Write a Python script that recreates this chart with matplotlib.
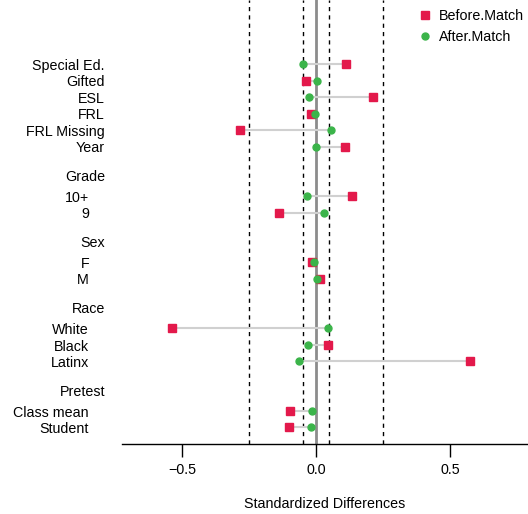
import numpy as np
import matplotlib.pyplot as plt
import matplotlib.transforms as mtransforms

plt.rcParams['font.family'] = ['Liberation Sans', 'DejaVu Sans']

# Covariates without a group header
top_vars = ['Special Ed.', 'Gifted', 'ESL', 'FRL', 'FRL Missing', 'Year']
top_before = [0.113, -0.036, 0.214, -0.017, -0.282, 0.109]
top_after = [-0.049, 0.002, -0.025, -0.002, 0.055, 0.000]

# Grouped covariates
groups = ['Grade', 'Sex', 'Race', 'Pretest']
group_items = [['10+', '9'], ['F', 'M'], ['White', 'Black', 'Latinx'],
               ['Class mean', 'Student']]
group_before = [[0.136, -0.137], [-0.014, 0.014], [-0.537, 0.045, 0.575],
                [-0.097, -0.100]]
group_after = [[-0.034, 0.031], [-0.007, 0.005], [0.045, -0.030, -0.063],
               [-0.015, -0.019]]

red = '#E3194B'
green = '#3BB44A'
fs = 10.3

fig = plt.figure(figsize=(5.28, 5.14), dpi=100)
ax = fig.add_axes([122 / 528, 70 / 514, 406 / 528, 444 / 514])

# Build row positions
rows = []  # (y, label, before, after, is_item)
headers = []
y = 0
for lab, b, a in zip(top_vars, top_before, top_after):
    rows.append((y, lab, b, a, False))
    y += 1
for g, items, bs, as_ in zip(groups, group_items, group_before, group_after):
    y += 0.75
    headers.append((y, g))
    y += 1.25
    for lab, b, a in zip(items, bs, as_):
        rows.append((y, lab, b, a, True))
        y += 1

# Reference lines
for v in [-0.25, -0.05, 0.05, 0.25]:
    ax.axvline(v, color='black', linestyle=(0, (3, 3)), linewidth=1, zorder=1)
ax.axvline(0, color='#8C8C8C', linewidth=2, zorder=1)

ys = np.array([r[0] for r in rows])
bef = np.array([r[2] for r in rows])
aft = np.array([r[3] for r in rows])
ax.hlines(ys, bef, aft, color='#D0D0D0', linewidth=1.5, zorder=2)
ax.plot(bef, ys, 's', color=red, markersize=5.5, linestyle='none', zorder=3,
        label='Before.Match')
ax.plot(aft, ys, 'o', color=green, markersize=5, linestyle='none', zorder=4,
        label='After.Match')

# Labels on the left
trans = mtransforms.blended_transform_factory(fig.transFigure, ax.transData)
for yy, lab, b, a, is_item in rows:
    xpos = 89 / 528 if is_item else 105 / 528
    ax.text(xpos, yy + 0.1, lab, transform=trans, ha='right', va='center',
            fontsize=fs, clip_on=False)
for yy, g in headers:
    ax.text(105 / 528, yy + 0.1, g, transform=trans, ha='right', va='center',
            fontsize=fs, clip_on=False)

ax.set_xlim(-0.724, 0.791)
ax.set_ylim(23.0, -3.88)
ax.set_yticks([])
ax.set_xticks([-0.5, 0.0, 0.5])
ax.tick_params(axis='x', length=9, width=1, labelsize=fs, pad=5)
for s in ['top', 'right', 'left']:
    ax.spines[s].set_visible(False)
ax.spines['bottom'].set_linewidth(1)
ax.set_xlabel('Standardized Differences', fontsize=fs, labelpad=14)

ax.legend(loc='upper left', bbox_to_anchor=(409 / 528, 1.0),
          bbox_transform=fig.transFigure, frameon=False, fontsize=fs,
          handlelength=1.0, handletextpad=0.45, labelspacing=0.45,
          borderaxespad=0.25)

fig.savefig('out.png', dpi=100)
